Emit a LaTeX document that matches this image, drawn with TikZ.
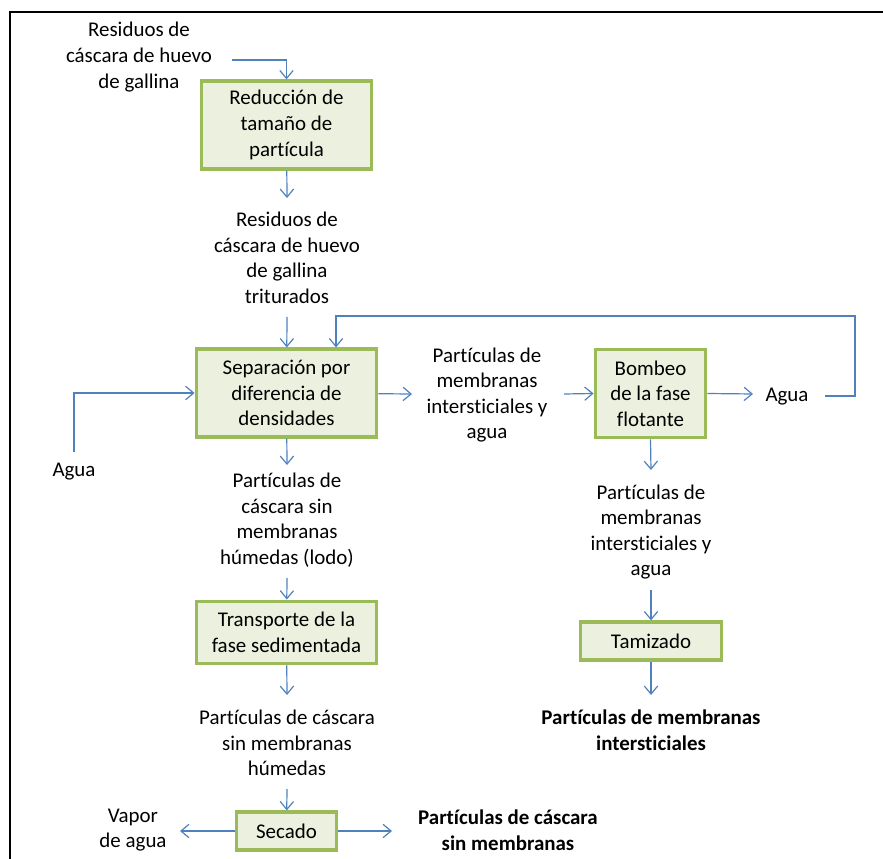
\documentclass[tikz,border=0pt]{standalone}
\usepackage{fontspec}
\setmainfont{Carlito}[Ligatures=NoCommon]
\usetikzlibrary{arrows.meta}

\definecolor{cajaborde}{HTML}{9BBB59}
\definecolor{cajafondo}{HTML}{EBF1DE}
\definecolor{flecha}{HTML}{4F81BD}

\begin{document}
\begin{tikzpicture}[
    x=0.75pt, y=-0.75pt,
    font=\fontsize{15.7}{19.2}\selectfont,
    proceso/.style={draw=cajaborde, line width=2.4pt, fill=cajafondo, rectangle, inner sep=2pt, align=center},
    etiqueta/.style={align=center, inner sep=0pt},
    flujo/.style={draw=flecha, line width=0.9pt, -{Straight Barb[length=6pt, width=10pt]}}
  ]
  \useasboundingbox (0,0) rectangle (883,859);

  % marco
  \draw[line width=1.5pt] (10,859) -- (10,12) -- (883,12);

  % procesos
  \node[proceso, minimum width=128pt, minimum height=66pt] (reduc) at (286.5,125) {Reducción de\\tamaño de\\partícula};
  \node[proceso, minimum width=135.5pt, minimum height=66pt] (separ) at (286.5,393) {Separación por\\diferencia de\\densidades};
  \node[proceso, minimum width=83pt, minimum height=66.5pt] (bomb) at (650.5,393.5) {Bombeo\\de la fase\\flotante};
  \node[proceso, minimum width=106pt, minimum height=28.5pt] (tamiz) at (651,641) {Tamizado};
  \node[proceso, minimum width=135.5pt, minimum height=47pt] (transp) at (286.5,632.5) {Transporte de la\\fase sedimentada};
  \node[proceso, minimum width=75.5pt, minimum height=28.5pt] (secado) at (286.5,831) {Secado};

  % corrientes
  \node[etiqueta] (resid) at (139,57) {Residuos de\\cáscara de huevo\\de gallina};
  \node[etiqueta] (trit) at (287,258) {Residuos de\\cáscara de huevo\\de gallina\\triturados};
  \node[etiqueta] (membA) at (487,395) {Partículas de\\membranas\\intersticiales y\\agua};
  \node[etiqueta] (aguaB) at (787,397) {Agua};
  \node[etiqueta] (aguaA) at (74,472) {Agua};
  \node[etiqueta] (lodo) at (287,520) {Partículas de\\cáscara sin\\membranas\\húmedas (lodo)};
  \node[etiqueta] (membB) at (651,532) {Partículas de\\membranas\\intersticiales y\\agua};
  \node[etiqueta] (humed) at (287,743) {Partículas de cáscara\\sin membranas\\húmedas};
  \node[etiqueta] (vapor) at (133,830) {Vapor\\de agua};
  \node[etiqueta, font=\fontsize{15.7}{19.2}\selectfont\bfseries] (prodC) at (508,830) {Partículas de cáscara\\sin membranas};
  \node[etiqueta, font=\fontsize{15.7}{19.2}\selectfont\bfseries] (prodM) at (651,730) {Partículas de membranas\\intersticiales};

  % extremos libres
  \coordinate (e0) at (232,60);
  \coordinate (e1) at (287,198);
  \coordinate (e2) at (287,317);
  \coordinate (e3) at (412,394);
  \coordinate (e4) at (564,394);
  \coordinate (e5) at (753,394);
  \coordinate (e6) at (287,465);
  \coordinate (e7) at (287,578);
  \coordinate (e8) at (287,695);
  \coordinate (e9) at (287,789);
  \coordinate (e10) at (180,831);
  \coordinate (e11) at (392,831);
  \coordinate (e12) at (651,470);
  \coordinate (e13) at (651,590);
  \coordinate (e14) at (651,695);
  \coordinate (w0) at (74,452);
  \coordinate (r0) at (825,396);
  \coordinate (r1) at (855,316);
  \coordinate (r2) at (336,316);

  \draw[flujo] (e0) -| (reduc.north);
  \draw[flujo] (reduc) -- (e1);
  \draw[flujo] (e2) -- (separ);
  \draw[flujo] (w0) |- (separ.west);
  \draw[flujo] (separ) -- (e3);
  \draw[flujo] (e4) -- (bomb.west);
  \draw[flujo] (bomb.east) -- (e5);
  \draw[flujo] (r0) -| (r1) -- (r2) -- (r2 |- separ.north);
  \draw[flujo] (separ) -- (e6);
  \draw[flujo] (e7) -- (transp);
  \draw[flujo] (transp) -- (e8);
  \draw[flujo] (e9) -- (secado);
  \draw[flujo] (secado) -- (e10);
  \draw[flujo] (secado) -- (e11);
  \draw[flujo] (bomb.south) -- (e12);
  \draw[flujo] (e13) -- (tamiz);
  \draw[flujo] (tamiz) -- (e14);

\end{tikzpicture}
\end{document}
